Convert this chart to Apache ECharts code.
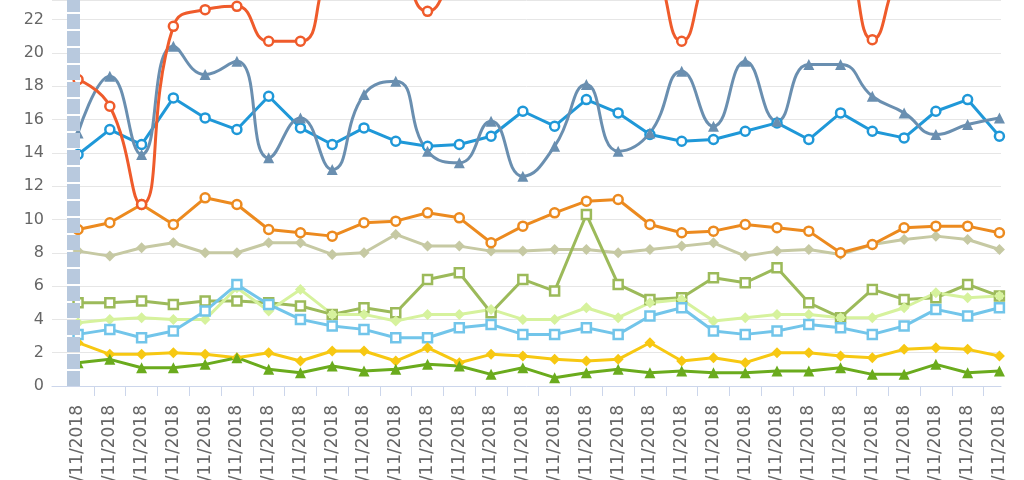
<!DOCTYPE html>
<html>
<head>
<meta charset="utf-8">
<script src="https://cdn.jsdelivr.net/npm/echarts@6/dist/echarts.min.js"></script>
<style>
html,body{margin:0;padding:0;background:#fff;}
#chart{width:1024px;height:480px;}
</style>
</head>
<body>
<div id="chart"></div>
<script>
const categories = ['01/11/2018','02/11/2018','03/11/2018','04/11/2018','05/11/2018','06/11/2018','07/11/2018','08/11/2018','09/11/2018','10/11/2018',
  '11/11/2018','12/11/2018','13/11/2018','14/11/2018','15/11/2018','16/11/2018','17/11/2018','18/11/2018','19/11/2018','20/11/2018',
  '21/11/2018','22/11/2018','23/11/2018','24/11/2018','25/11/2018','26/11/2018','27/11/2018','28/11/2018','29/11/2018','30/11/2018'];
const yTicks = [0, 2, 4, 6, 8, 10, 12, 14, 16, 18, 20, 22];

const redOrange = [18.4, 16.8, 10.9, 21.6, 22.6, 22.8, 20.7, 20.7, 25.2, 26.0, 25.4, 22.5, 25.0, 25.8, 26.2, 25.5, 25.9, 26.3, 25.6, 20.7, 25.4, 26.1, 25.7, 26.0, 25.8, 20.8, 25.0, 25.6, 26.0, 25.5];
const slate     = [15.2, 18.6, 13.9, 20.4, 18.7, 19.5, 13.7, 16.1, 13.0, 17.5, 18.3, 14.1, 13.4, 15.9, 12.6, 14.4, 18.1, 14.1, 15.2, 18.9, 15.6, 19.5, 15.9, 19.3, 19.3, 17.4, 16.4, 15.1, 15.7, 16.1];
const blue      = [13.9, 15.4, 14.5, 17.3, 16.1, 15.4, 17.4, 15.5, 14.5, 15.5, 14.7, 14.4, 14.5, 15.0, 16.5, 15.6, 17.2, 16.4, 15.1, 14.7, 14.8, 15.3, 15.8, 14.8, 16.4, 15.3, 14.9, 16.5, 17.2, 15.0];
const orange    = [9.4, 9.8, 10.9, 9.7, 11.3, 10.9, 9.4, 9.2, 9.0, 9.8, 9.9, 10.4, 10.1, 8.6, 9.6, 10.4, 11.1, 11.2, 9.7, 9.2, 9.3, 9.7, 9.5, 9.3, 8.0, 8.5, 9.5, 9.6, 9.6, 9.2];
const khaki     = [8.1, 7.8, 8.3, 8.6, 8.0, 8.0, 8.6, 8.6, 7.9, 8.0, 9.1, 8.4, 8.4, 8.1, 8.1, 8.2, 8.2, 8.0, 8.2, 8.4, 8.6, 7.8, 8.1, 8.2, 7.9, 8.5, 8.8, 9.0, 8.8, 8.2];
const olive     = [5.0, 5.0, 5.1, 4.9, 5.1, 5.1, 5.0, 4.8, 4.3, 4.7, 4.4, 6.4, 6.8, 4.4, 6.4, 5.7, 10.3, 6.1, 5.2, 5.3, 6.5, 6.2, 7.1, 5.0, 4.1, 5.8, 5.2, 5.3, 6.1, 5.4];
const lime      = [3.8, 4.0, 4.1, 4.0, 4.0, 5.9, 4.5, 5.8, 4.3, 4.3, 3.9, 4.3, 4.3, 4.6, 4.0, 4.0, 4.7, 4.1, 5.0, 5.2, 3.9, 4.1, 4.3, 4.3, 4.1, 4.1, 4.7, 5.6, 5.3, 5.4];
const lightBlue = [3.1, 3.4, 2.9, 3.3, 4.5, 6.1, 4.9, 4.0, 3.6, 3.4, 2.9, 2.9, 3.5, 3.7, 3.1, 3.1, 3.5, 3.1, 4.2, 4.7, 3.3, 3.1, 3.3, 3.7, 3.5, 3.1, 3.6, 4.6, 4.2, 4.7];
const yellow    = [2.6, 1.9, 1.9, 2.0, 1.9, 1.7, 2.0, 1.5, 2.1, 2.1, 1.5, 2.3, 1.4, 1.9, 1.8, 1.6, 1.5, 1.6, 2.6, 1.5, 1.7, 1.4, 2.0, 2.0, 1.8, 1.7, 2.2, 2.3, 2.2, 1.8];
const green     = [1.4, 1.6, 1.1, 1.1, 1.3, 1.7, 1.0, 0.8, 1.2, 0.9, 1.0, 1.3, 1.2, 0.7, 1.1, 0.5, 0.8, 1.0, 0.8, 0.9, 0.8, 0.8, 0.9, 0.9, 1.1, 0.7, 0.7, 1.3, 0.8, 0.9];

const labelIdx = categories.map((c, i) => i);
const tickPos = categories.slice(1).map((c, i) => i + 0.5);
const pairs = arr => arr.map((v, i) => [i, v]);

function line(data, color, symbol, opts) {
  opts = opts || {};
  const hollow = !!opts.hollow;
  return {
    type: 'line',
    data: pairs(data),
    z: 3,
    clip: false,
    smooth: opts.smooth || false,
    symbol: symbol,
    symbolSize: opts.size || 9,
    showAllSymbol: true,
    lineStyle: { color: color, width: 3, type: 'solid' },
    itemStyle: hollow
      ? { color: '#ffffff', borderColor: color, borderWidth: 2.5, borderType: 'solid' }
      : { color: color, borderWidth: 0 },
    emphasis: { disabled: true },
    animation: false
  };
}

const chart = echarts.init(document.getElementById('chart'), null, { renderer: 'canvas' });
chart.setOption({
  animation: false,
  backgroundColor: '#ffffff',
  textStyle: { fontFamily: 'DejaVu Sans' },
  grid: { left: 52, right: 23, top: 0, bottom: 94, containLabel: false, outerBoundsMode: 'none' },
  xAxis: {
    type: 'value',
    min: -0.82,
    max: 29.05,
    axisLine: { show: true, onZero: false, lineStyle: { color: '#ccd6eb', width: 1 } },
    axisTick: { show: true, length: 10, customValues: tickPos, lineStyle: { color: '#ccd6eb' } },
    axisLabel: {
      customValues: labelIdx,
      formatter: v => categories[Math.round(v)],
      rotate: 90,
      margin: 19,
      color: '#666666',
      fontSize: 17,
      fontFamily: 'DejaVu Sans'
    },
    splitLine: { show: false }
  },
  yAxis: {
    type: 'value',
    min: 0,
    max: 23.18,
    interval: 2,
    axisLine: { show: false },
    axisTick: { show: false },
    axisLabel: {
      color: '#666666', fontSize: 16, margin: 8, fontFamily: 'DejaVu Sans',
      showMaxLabel: false,
      formatter: v => (yTicks.indexOf(v) >= 0 ? String(v) : '')
    },
    splitLine: { lineStyle: { color: '#e6e6e6', width: 1 } }
  },
  series: [
    {
      type: 'line',
      data: [],
      z: 1,
      silent: true,
      markLine: {
        silent: true,
        symbol: ['none', 'none'],
        label: { show: false },
        animation: false,
        lineStyle: { color: '#b8c9de', width: 13, type: [15, 2] },
        data: [{ xAxis: -0.14 }]
      }
    },
    line(khaki, '#c6c9a3', 'diamond', { size: 11 }),
    line(orange, '#ec8a1f', 'circle', { hollow: true }),
    line(olive, '#9cba5a', 'rect', { hollow: true, size: 9 }),
    line(lime, '#d6f29d', 'diamond', { size: 11 }),
    line(lightBlue, '#72c5ea', 'rect', { hollow: true, size: 9 }),
    line(yellow, '#f7c812', 'diamond', { size: 11 }),
    line(green, '#6aab1d', 'triangle', { size: 11 }),
    line(blue, '#1f98d8', 'circle', { hollow: true }),
    line(slate, '#6a8fb0', 'triangle', { smooth: 0.5, size: 11 }),
    line(redOrange, '#ef5b2b', 'circle', { hollow: true, smooth: 0.5 })
  ]
});
</script>
</body>
</html>
